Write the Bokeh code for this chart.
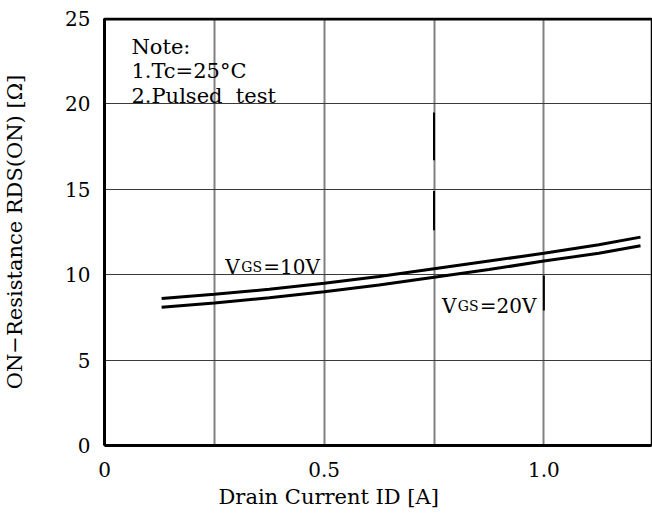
from bokeh.plotting import figure
from bokeh.models import Range1d, FixedTicker, Label, Span, Title
from bokeh.embed import file_html
from bokeh.resources import INLINE

# ---- data ----
id_current = [0.13, 0.25, 0.375, 0.5, 0.625, 0.75, 0.875, 1.0, 1.125, 1.22]
rds_vgs10 = [8.6, 8.85, 9.15, 9.5, 9.9, 10.35, 10.8, 11.25, 11.75, 12.2]
rds_vgs20 = [8.1, 8.35, 8.65, 9.0, 9.4, 9.85, 10.3, 10.8, 11.25, 11.7]
x_ticks = [0, 0.5, 1]
x_tick_labels = ["0", "0.5", "1.0"]
x_grid = [0.25, 0.5, 0.75, 1.0]
y_ticks = [0, 5, 10, 15, 20, 25]
y_grid = [5, 10, 15, 20]
# dark over-printed pieces of grid lines in the scan
mark_x = [0.75, 0.75, 1.0]
mark_y0 = [19.5, 14.9, 9.95]
mark_y1 = [16.7, 12.6, 7.9]
note_lines = ["Note:", "1.Tc=25\u00b0C", "2.Pulsed\u00a0 test"]
x_title = "Drain Current ID [A]"
y_title = "ON\u2212Resistance RDS(ON) [\u03a9]"

FONT = "DejaVu Serif"
X0, X1, Y0, Y1 = 0, 1.245, 0, 25
W, H = 652, 524
BL, BR, BT, BB = 103, 1, 18, 79
FW = W - BL - BR
FH = H - BT - BB


def dx(px):
    # image pixel -> data x (for annotation placement only)
    return X0 + (px - BL) * (X1 - X0) / FW


def dy(py):
    return Y0 + (BT + FH - py) * (Y1 - Y0) / FH


p = figure(width=W, height=H, x_range=Range1d(X0, X1), y_range=Range1d(Y0, Y1),
           output_backend="svg", toolbar_location=None,
           min_border_left=BL, min_border_right=BR, min_border_top=BT, min_border_bottom=BB)
p.background_fill_color = "white"
p.border_fill_color = "white"
p.outline_line_color = "black"
p.outline_line_width = 1.5

# axes
p.xaxis.ticker = FixedTicker(ticks=x_ticks)
p.xaxis.major_label_overrides = {t: l for t, l in zip(x_ticks, x_tick_labels)}
p.yaxis.ticker = FixedTicker(ticks=y_ticks)
for ax in (p.xaxis, p.yaxis):
    ax.axis_line_color = "black"
    ax.axis_line_width = 3
    ax.major_tick_line_color = None
    ax.minor_tick_line_color = None
    ax.major_label_text_font = FONT
    ax.major_label_text_font_size = "20px"
    ax.major_label_text_color = "black"
    ax.axis_label_text_font = FONT
    ax.axis_label_text_font_size = "21px"
    ax.axis_label_text_font_style = "normal"
    ax.axis_label_text_color = "black"
p.xaxis.major_label_standoff = 10
p.yaxis.major_label_standoff = 8
p.yaxis.axis_label = y_title
p.yaxis.axis_label_standoff = 35

p.add_layout(Title(text=x_title, align="left", offset=114, standoff=6,
                   text_font=FONT, text_font_size="21px", text_font_style="normal",
                   text_color="black"), "below")

# grids
p.xgrid.ticker = FixedTicker(ticks=x_grid)
p.xgrid.grid_line_color = "#808080"
p.xgrid.grid_line_width = 2
p.ygrid.ticker = FixedTicker(ticks=y_grid)
p.ygrid.grid_line_color = "#3a3a3a"
p.ygrid.grid_line_width = 1.2

p.add_layout(Span(location=Y1, dimension="width", line_color="black", line_width=4))

p.segment(x0=mark_x, y0=mark_y0, x1=mark_x, y1=mark_y1, line_color="black", line_width=2)

# curves
p.line(id_current, rds_vgs10, line_color="black", line_width=3)
p.line(id_current, rds_vgs20, line_color="black", line_width=3)


def lab(px, py, t, size, align="left"):
    p.add_layout(Label(x=dx(px), y=dy(py), text=t, text_font=FONT,
                       text_font_size=f"{size}px", text_color="black",
                       text_align=align, text_baseline="alphabetic"))


# note
for i, t in enumerate(note_lines):
    lab(130, 46 + i * 24.5, t, 21)

# VGS labels
lab(224, 266, "V", 20)
lab(240, 266, "GS", 14)
lab(262, 266, "=10V", 20)
lab(441, 305, "V", 20)
lab(457, 305, "GS", 14)
lab(479, 305, "=20V", 20)

open("out.html", "w").write(file_html(p, INLINE))
